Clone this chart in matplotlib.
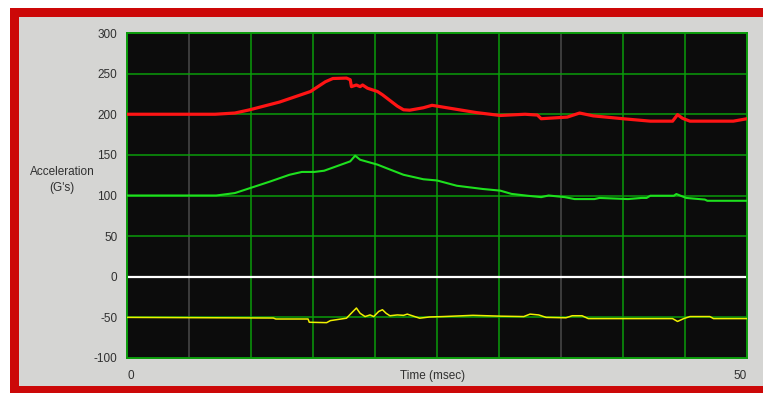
import matplotlib.pyplot as plt
from matplotlib.patches import Rectangle

# --- DATA (time in msec, acceleration in G's) ---
red_t = [0, 7.1, 8.7, 9.9, 12.3, 14.8, 16.0, 16.6, 17.7, 18.0, 18.1, 18.5, 18.8, 19.0,
         19.4, 20.2, 20.6, 21.2, 21.8, 22.3, 22.8, 23.9, 24.6, 26.0, 28.2, 30.1, 32.1,
         33.1, 33.4, 35.5, 36.5, 37.6, 40.0, 42.2, 44.0, 44.4, 44.8, 45.4, 48.9, 50]
red_g = [200, 200, 201.5, 205.5, 215, 228, 240, 244, 244.5, 242.5, 234, 236, 234, 236,
         232, 228, 224, 217, 210, 205.5, 205, 208, 211, 207.5, 202, 198.5, 200,
         199, 194.5, 196.5, 201.5, 198, 194.5, 191.5, 191.5, 199.5, 195, 191.5, 191.5, 194.5]

green_t = [0, 7.2, 8.7, 9.9, 11.5, 13.1, 14.1, 15.1, 15.9, 18.0, 18.4, 18.8, 20.2, 21.2,
           22.3, 23.9, 25.0, 26.6, 28.7, 30.1, 31.0, 32.3, 33.4, 34.0, 35.3, 36.1, 37.7,
           38.1, 40.4, 41.5, 41.9, 42.2, 44.1, 44.3, 45.1, 46.6, 46.8, 50]
green_g = [100, 100, 103, 109, 117, 125.5, 129, 129, 130.5, 142, 149, 144, 138, 132,
           125.5, 120, 118.5, 112, 108, 106, 102, 99.7, 98, 100, 98, 95.6, 95.6,
           97, 95.6, 97, 97, 99.7, 99.7, 101.8, 97, 95, 93.5, 93.5]

yellow_t = [0, 11.8, 12.0, 14.6, 14.7, 16.1, 16.4, 17.7, 18.1, 18.5, 18.8, 19.2, 19.6,
            19.9, 20.3, 20.6, 20.9, 21.2, 21.8, 22.3, 22.6, 23.1, 23.6, 24.4, 25.5, 27.9,
            30.1, 32.0, 32.5, 33.2, 33.8, 35.4, 35.9, 36.7, 37.2, 44.0, 44.4, 44.9, 45.4,
            47.0, 47.3, 50]
yellow_g = [-50, -50.8, -52, -52, -56, -56.5, -54, -51, -44.7, -38.5, -45, -49, -47,
            -49, -42.7, -40.6, -45, -48, -47, -47.5, -46, -48.5, -51, -49.5, -49, -47.5,
            -48.5, -49, -46, -47, -50, -50.5, -48, -48, -51.5, -51.5, -55, -51.5, -49,
            -49, -51.5, -51.5]

y_ticks = [-100, -50, 0, 50, 100, 150, 200, 250, 300]
x_grid = [5, 10, 15, 20, 25, 30, 35, 40, 45]
dim_grid = [5, 35]

W, H = 763, 393


def fx(x):
    return x / W


def fy(y):
    return 1 - y / H


fig = plt.figure(figsize=(W / 100, H / 100), dpi=100)
fig.patch.set_facecolor('white')

# red frame and grey panel behind the axes
fig.patches.append(Rectangle((fx(10), 0), 1, fy(8), transform=fig.transFigure,
                             facecolor='#cc0808', edgecolor='none', zorder=-10))
fig.patches.append(Rectangle((fx(19), fy(386)), 1, fy(17) - fy(386), transform=fig.transFigure,
                             facecolor='#d5d5d3', edgecolor='none', zorder=-9))

ax = fig.add_axes([fx(127), fy(358), fx(747) - fx(127), fy(33) - fy(358)])
ax.set_zorder(5)
ax.set_facecolor('#0c0c0c')

grid_green = '#0a9c0a'
for t in x_grid:
    col = '#4a4a4a' if t in dim_grid else grid_green
    ax.axvline(t, color=col, lw=1.1, zorder=1)
for g in y_ticks[1:-1]:
    if g == 0:
        ax.axhline(g, color='white', lw=1.6, zorder=2)
    else:
        ax.axhline(g, color=grid_green, lw=1.1, zorder=1)

ax.plot(red_t, red_g, color='#ff1414', lw=2.3, zorder=4)
ax.plot(green_t, green_g, color='#1ee01e', lw=1.5, zorder=4)
ax.plot(yellow_t, yellow_g, color='#f0f000', lw=1.1, zorder=4)

ax.set_xlim(0, 50)
ax.set_ylim(-100, 300)
for s in ax.spines.values():
    s.set_color(grid_green)
    s.set_linewidth(1.4)

text_col = '#303030'
ax.set_xticks([])
ax.set_yticks(y_ticks)
ax.set_yticklabels([str(v) for v in y_ticks], fontsize=8.5, color=text_col,
                   family='Liberation Sans')
ax.tick_params(axis='y', length=0, pad=7)

fig.text(fx(127), fy(376), '0', ha='left', va='center', fontsize=8.5,
         color=text_col, family='Liberation Sans')
fig.text(fx(747), fy(376), '50', ha='right', va='center', fontsize=8.5,
         color=text_col, family='Liberation Sans')
fig.text(fx(433), fy(376), 'Time (msec)', ha='center', va='center', fontsize=8.5,
         color=text_col, family='Liberation Sans')
fig.text(fx(62), fy(180), 'Acceleration\n(G\'s)', ha='center', va='center',
         fontsize=8.5, color=text_col, family='Liberation Sans', linespacing=1.5)

fig.savefig('out.png', dpi=100)
